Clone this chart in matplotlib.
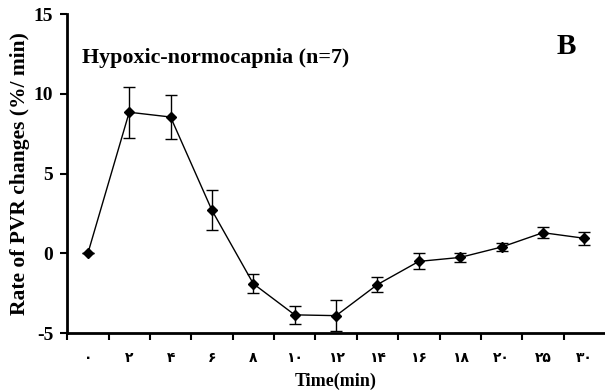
import matplotlib
matplotlib.use("Agg")
import matplotlib.pyplot as plt

# time points (min) shown with Persian digits on the axis
time_labels = ["۰", "۲", "۴", "۶", "۸", "۱۰", "۱۲", "۱۴", "۱۶", "۱۸", "۲۰", "۲۵", "۳۰"]
pvr_rate = [0.0, 8.85, 8.55, 2.7, -1.9, -3.85, -3.9, -1.95, -0.5, -0.25, 0.4, 1.3, 0.95]
pvr_err = [0.0, 1.6, 1.4, 1.25, 0.6, 0.55, 0.95, 0.45, 0.5, 0.3, 0.25, 0.35, 0.4]
y_ticks = [-5, 0, 5, 10, 15]

serif = "Liberation Serif"

fig = plt.figure(figsize=(6.05, 3.92), dpi=100)
ax = fig.add_axes([0.111, 0.15, 0.889, 0.814])

x = list(range(len(time_labels)))
ax.errorbar(x, pvr_rate, yerr=pvr_err, color="black", lw=1, marker="D",
            markersize=5.5, capsize=4, elinewidth=1, capthick=1, clip_on=False)

ax.set_xlim(-0.5, len(time_labels) - 0.5)
ax.set_ylim(-5, 15)
ax.set_yticks(y_ticks)
ax.set_yticklabels([str(v) for v in y_ticks], fontfamily=serif,
                   fontweight="bold", fontsize=14)

# tick marks sit between categories, labels at the centres
ax.set_xticks([i - 0.5 for i in x])
ax.set_xticklabels([])
ax.set_xticks(x, minor=True)
ax.set_xticklabels(time_labels, minor=True, family=["DejaVu Sans"],
                   fontweight="bold", fontsize=10)
ax.tick_params(axis="x", which="minor", length=0, pad=13)
ax.tick_params(axis="x", which="major", length=5, width=1.5)
ax.tick_params(axis="y", length=5, width=1.5, pad=5)

for s in ["top", "right"]:
    ax.spines[s].set_visible(False)
ax.spines["left"].set_linewidth(2)
ax.spines["bottom"].set_linewidth(2)

ax.set_xlabel("Time(min)", fontfamily=serif, fontweight="bold", fontsize=13,
              labelpad=5)
ax.set_ylabel("Rate of PVR changes (%/ min)", fontfamily=serif,
              fontweight="bold", fontsize=15.5, labelpad=3)

ax.text(0.027, 0.862, "Hypoxic-normocapnia (n=7)", transform=ax.transAxes,
        fontfamily=serif, fontweight="bold", fontsize=15.8, va="center")
ax.text(0.91, 0.9, "B", transform=ax.transAxes, fontfamily=serif,
        fontweight="bold", fontsize=21, va="center")

fig.savefig("out.png", dpi=100)
